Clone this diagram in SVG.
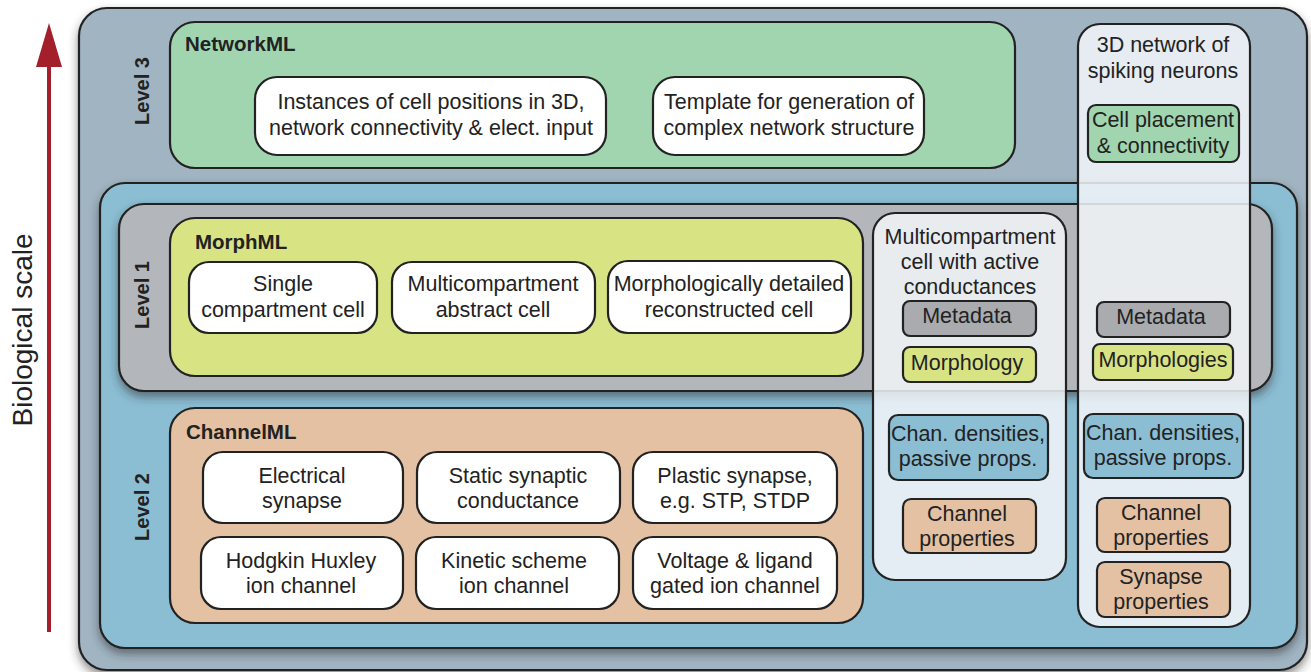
<svg xmlns="http://www.w3.org/2000/svg" width="1311" height="672" viewBox="0 0 1311 672">
<defs>
<filter id="sh" x="-5%" y="-5%" width="110%" height="115%">
<feDropShadow dx="0" dy="5" stdDeviation="5" flood-color="#333" flood-opacity="0.55"/>
</filter>
</defs>
<style>
.b{stroke:#222;stroke-width:2.2}
.t{font-family:"Liberation Sans",Arial,sans-serif;font-size:21.5px;fill:#222;text-anchor:middle}
.h{font-family:"Liberation Sans",Arial,sans-serif;font-size:20.5px;font-weight:bold;fill:#222}
.lv{font-family:"Liberation Sans",Arial,sans-serif;font-size:20px;font-weight:bold;fill:#222;text-anchor:middle}
.w{fill:#fff}
.col{fill:#f1f5f8;fill-opacity:0.86}
.g{fill:#a0d5b0}
.y{fill:#d8e384}
.p{fill:#e4c1a3}
.bl{fill:#8bbdd3}
.gr{fill:#a9abae}
</style>
<rect width="1311" height="672" fill="#fff"/>
<g id="scale">
<line x1="49" y1="632" x2="49" y2="66" stroke="#a31f2b" stroke-width="4"/>
<path d="M36,67 L49,23 L62,67 Z" fill="#a31f2b"/>
<text class="t" style="font-size:28px" transform="translate(32,330) rotate(-90)">Biological scale</text>
</g>
<g id="level3">
<rect class="b" x="79" y="8" width="1228" height="662" rx="28" fill="#a0b4c2" filter="url(#sh)"/>
<text class="lv" transform="translate(149,91) rotate(-90)">Level 3</text>
</g>
<g id="networkml">
<rect class="b g" x="170" y="22" width="845" height="146" rx="25"/>
<text class="h" x="185" y="51">NetworkML</text>
</g>
<g id="instances">
<rect class="b w" x="255" y="77" width="351" height="78" rx="22"/>
<text class="t" x="431" y="109">Instances of cell positions in 3D,</text>
<text class="t" x="431" y="135">network connectivity &amp; elect. input</text>
</g>
<g id="template">
<rect class="b w" x="653" y="77" width="271" height="78" rx="22"/>
<text class="t" x="789" y="109">Template for generation of</text>
<text class="t" x="789" y="135">complex network structure</text>
</g>
<g id="level2">
<rect class="b bl" x="100" y="183" width="1197" height="465" rx="25" filter="url(#sh)"/>
<text class="lv" transform="translate(149,507) rotate(-90)">Level 2</text>
</g>
<g id="level1">
<rect class="b" x="119" y="204" width="1153" height="187" rx="25" fill="#b3b6ba" filter="url(#sh)"/>
<text class="lv" transform="translate(149,295) rotate(-90)">Level 1</text>
</g>
<g id="morphml">
<rect class="b y" x="170" y="218" width="693" height="158" rx="25"/>
<text class="h" x="195" y="249">MorphML</text>
</g>
<g id="single">
<rect class="b w" x="189" y="262" width="188" height="71" rx="20"/>
<text class="t" x="283" y="291">Single</text>
<text class="t" x="283" y="317">compartment cell</text>
</g>
<g id="multiabstract">
<rect class="b w" x="392" y="262" width="203" height="71" rx="20"/>
<text class="t" x="493" y="291">Multicompartment</text>
<text class="t" x="493" y="317">abstract cell</text>
</g>
<g id="morphdetailed">
<rect class="b w" x="608" y="261" width="243" height="72" rx="20"/>
<text class="t" x="729" y="291">Morphologically detailed</text>
<text class="t" x="729" y="317">reconstructed cell</text>
</g>
<g id="channelml">
<rect class="b p" x="170" y="408" width="693" height="215" rx="25"/>
<text class="h" x="186" y="439">ChannelML</text>
</g>
<g id="electrical">
<rect class="b w" x="203" y="452" width="200" height="71" rx="20"/>
<text class="t" x="302" y="483">Electrical</text>
<text class="t" x="302" y="508">synapse</text>
</g>
<g id="static">
<rect class="b w" x="417" y="452" width="203" height="71" rx="20"/>
<text class="t" x="518" y="483">Static synaptic</text>
<text class="t" x="518" y="508">conductance</text>
</g>
<g id="plastic">
<rect class="b w" x="633" y="452" width="204" height="71" rx="20"/>
<text class="t" x="735" y="483">Plastic synapse,</text>
<text class="t" x="735" y="508">e.g. STP, STDP</text>
</g>
<g id="hh">
<rect class="b w" x="201" y="537" width="202" height="72" rx="20"/>
<text class="t" x="301" y="568">Hodgkin Huxley</text>
<text class="t" x="301" y="593">ion channel</text>
</g>
<g id="kinetic">
<rect class="b w" x="416" y="537" width="203" height="72" rx="20"/>
<text class="t" x="514" y="568">Kinetic scheme</text>
<text class="t" x="514" y="593">ion channel</text>
</g>
<g id="voltage">
<rect class="b w" x="633" y="537" width="204" height="72" rx="20"/>
<text class="t" x="735" y="568">Voltage &amp; ligand</text>
<text class="t" x="735" y="593">gated ion channel</text>
</g>
<g id="multicell">
<rect class="b col" x="873" y="213" width="193" height="367" rx="22"/>
<text class="t" x="970" y="244">Multicompartment</text>
<text class="t" x="970" y="269">cell with active</text>
<text class="t" x="970" y="294">conductances</text>
</g>
<g id="metadata1">
<rect class="b gr" x="903" y="301" width="133" height="35" rx="7"/>
<text class="t" x="967" y="323">Metadata</text>
</g>
<g id="morphology">
<rect class="b y" x="903" y="347" width="133" height="35" rx="7"/>
<text class="t" x="967" y="370">Morphology</text>
</g>
<g id="chandens1">
<rect class="b bl" x="889" y="415" width="159" height="65" rx="9"/>
<text class="t" x="968" y="441">Chan. densities,</text>
<text class="t" x="968" y="466">passive props.</text>
</g>
<g id="chanprops1">
<rect class="b p" x="903" y="499" width="133" height="54" rx="8"/>
<text class="t" x="967" y="521">Channel</text>
<text class="t" x="967" y="546">properties</text>
</g>
<g id="network3d">
<rect class="b col" x="1078" y="24" width="172" height="603" rx="22"/>
<text class="t" x="1163" y="52">3D network of</text>
<text class="t" x="1163" y="78">spiking neurons</text>
</g>
<g id="cellplacement">
<rect class="b g" x="1088" y="105" width="151" height="57" rx="8"/>
<text class="t" x="1163" y="127">Cell placement</text>
<text class="t" x="1163" y="153">&amp; connectivity</text>
</g>
<g id="metadata2">
<rect class="b gr" x="1097" y="302" width="133" height="35" rx="7"/>
<text class="t" x="1161" y="324">Metadata</text>
</g>
<g id="morphologies">
<rect class="b y" x="1093" y="344" width="140" height="36" rx="7"/>
<text class="t" x="1163" y="367">Morphologies</text>
</g>
<g id="chandens2">
<rect class="b bl" x="1084" y="414" width="159" height="64" rx="9"/>
<text class="t" x="1163" y="440">Chan. densities,</text>
<text class="t" x="1163" y="465">passive props.</text>
</g>
<g id="chanprops2">
<rect class="b p" x="1097" y="498" width="133" height="54" rx="8"/>
<text class="t" x="1161" y="520">Channel</text>
<text class="t" x="1161" y="545">properties</text>
</g>
<g id="synprops">
<rect class="b p" x="1097" y="562" width="133" height="55" rx="8"/>
<text class="t" x="1161" y="584">Synapse</text>
<text class="t" x="1161" y="609">properties</text>
</g>
<g id="connectors"></g>
</svg>
